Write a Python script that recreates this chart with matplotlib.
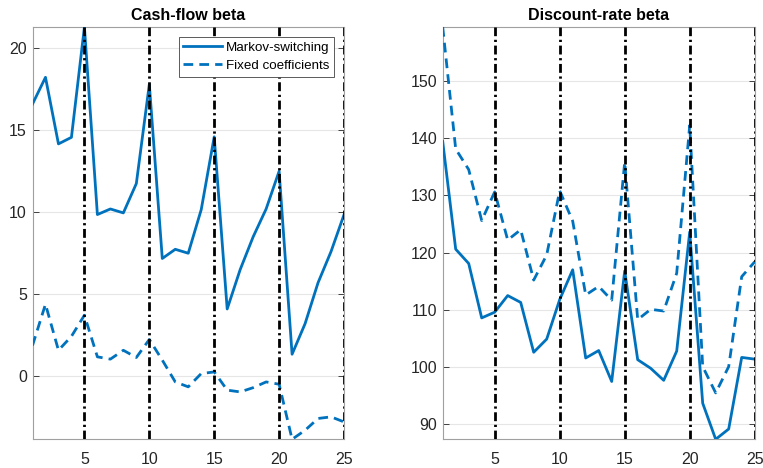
import matplotlib
matplotlib.use("Agg")
import matplotlib.pyplot as plt
import numpy as np

plt.rcParams['font.family'] = ['Liberation Sans', 'DejaVu Sans']

horizon = list(range(1, 26))
cf_markov = [16.6, 18.23, 14.17, 14.57, 21.3, 9.86, 10.2, 9.96, 11.75, 17.8,
             7.18, 7.74, 7.5, 10.16, 14.6, 4.1, 6.5, 8.5, 10.2, 12.5,
             1.34, 3.2, 5.7, 7.6, 9.85]
cf_fixed = [1.87, 4.39, 1.58, 2.43, 3.72, 1.18, 1.04, 1.58, 1.14, 2.24,
            0.98, -0.35, -0.65, 0.16, 0.26, -0.85, -0.96, -0.7, -0.35, -0.49,
            -3.85, -3.3, -2.58, -2.48, -2.79]
dr_markov = [139.4, 120.6, 118.1, 108.6, 109.6, 112.5, 111.3, 102.6, 104.9, 111.8,
             117.0, 101.6, 102.9, 97.5, 116.8, 101.3, 99.8, 97.7, 102.8, 123.6,
             93.7, 87.4, 89.2, 101.7, 101.4]
dr_fixed = [159.4, 138.1, 134.5, 125.6, 130.6, 122.2, 124.0, 115.2, 119.6, 130.8,
            125.5, 112.6, 114.1, 111.7, 135.8, 108.3, 110.1, 109.8, 116.4, 142.2,
            100.1, 95.5, 100.1, 115.8, 118.4]
regime_lines = [5, 10, 15, 20, 25]
titles = ['Cash-flow beta', 'Discount-rate beta']
legend_labels = ['Markov-switching', 'Fixed coefficients']

blue = '#0072BD'
fig = plt.figure(figsize=(7.63, 4.68), dpi=100)
ax1 = fig.add_axes([32.5/763, 1-439.3/468, (344-32.5)/763, (439.3-27)/468])
ax2 = fig.add_axes([442.7/763, 1-439.3/468, (754.7-442.7)/763, (439.3-27)/468])

panels = [(ax1, cf_markov, cf_fixed, [5, 10, 15, 20, 25], [0, 5, 10, 15, 20]),
          (ax2, dr_markov, dr_fixed, [5, 10, 15, 20, 25], [90, 100, 110, 120, 130, 140, 150])]
for i, (ax, m, f, xt, yt) in enumerate(panels):
    l1, = ax.plot(horizon, m, color=blue, lw=2.0, zorder=3)
    l2, = ax.plot(horizon, f, color=blue, lw=2.0, ls=(0, (3.5, 2.2)), zorder=3)
    for v in regime_lines:
        ax.axvline(v, color='black', lw=2.0, ls=(0, (3.2, 1.3, 0.8, 1.3)), zorder=4)
    ax.set_xlim(1, 25)
    lo = min(min(m), min(f)); hi = max(max(m), max(f))
    ax.set_ylim(lo, hi)
    ax.set_xticks(xt)
    ax.set_yticks(yt)
    ax.yaxis.grid(True, color='#e6e6e6', lw=0.8, zorder=0)
    ax.set_axisbelow(True)
    ax.tick_params(direction='in', length=4, width=0.6, colors='#262626',
                   labelsize=11.5, right=True, top=False)
    ax.tick_params(axis='y', pad=4)
    ax.tick_params(axis='x', pad=9)
    for s in ax.spines.values():
        s.set_color('#a0a0a0')
        s.set_linewidth(0.8)
    ax.set_title(titles[i], fontsize=11.5, fontweight='bold', pad=5)
    if i == 0:
        leg = ax.legend([l1, l2], legend_labels, loc='upper right', fontsize=9.6,
                        frameon=True, fancybox=False, edgecolor='#404040',
                        handlelength=2.9, borderaxespad=0.75, borderpad=0.35,
                        labelspacing=0.42, handletextpad=0.3, framealpha=1)
        leg.get_frame().set_linewidth(0.6)
        leg.set_zorder(10)

fig.savefig('out.png', dpi=100)
